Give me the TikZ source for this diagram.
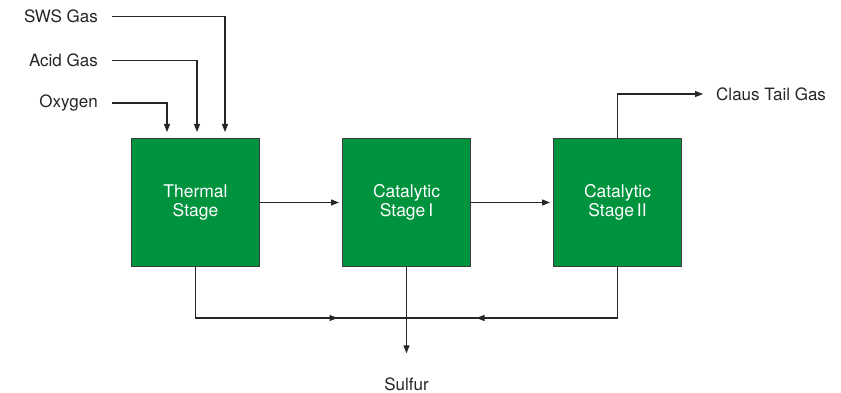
\documentclass[tikz,border=0pt]{standalone}
\usepackage{fontspec}
\setmainfont{TeX Gyre Heros}
\usepackage{tikz}
\usetikzlibrary{positioning, arrows.meta}
\definecolor{stagegreen}{RGB}{0,147,62}
\definecolor{edgegray}{RGB}{60,60,60}
\tikzset{
	stage/.style={draw=edgegray, line width=1pt, fill=stagegreen, text=white,
		minimum size=128pt, inner sep=0pt, align=center,
		font=\fontsize{17.5}{19.5}\selectfont},
	lbl/.style={inner sep=0pt, font=\fontsize{17}{19}\selectfont, text=black!85},
	flow/.style={line width=1.1pt, draw=black!85, -{Triangle[length=8pt,width=6pt]}},
	pipe/.style={line width=1.1pt, draw=black!85},
}

\begin{document}
\begin{tikzpicture}[x=1pt, y=-1pt]
		\useasboundingbox (0, 0) rectangle (841, 393);
		
		% Stages
		\node[stage] (thermal) at (195.5, 202.5) {Thermal\\Stage};
		\node[stage] (cat1) at (406.5, 202.5) {Catalytic\\Stage\,I};
		\node[stage] (cat2) at (617.5, 202.5) {Catalytic\\Stage\,II};
		
		% Feed gases
		\node[lbl, anchor=east] (sws) at (98, 16.5) {SWS Gas};
		\node[lbl, anchor=east] (acid) at (98, 60.5) {Acid Gas};
		\node[lbl, anchor=east] (oxy) at (98, 103) {Oxygen};
		\draw[flow, shorten >=6pt] ([xshift=14pt]sws.east) -| ([xshift=29.5pt]thermal.north);
		\draw[flow, shorten >=6pt] ([xshift=14pt]acid.east) -| ([xshift=1.5pt]thermal.north);
		\draw[flow, shorten >=6pt] ([xshift=14pt]oxy.east) -| ([xshift=-28.5pt]thermal.north);
		
		% Stage to stage
		\draw[flow, shorten >=3pt] (thermal.east) -- (cat1.west);
		\draw[flow, shorten >=3pt] (cat1.east) -- (cat2.west);
		
		% Tail gas
		\node[lbl, anchor=west] (tail) at (716, 94) {Claus Tail Gas};
		\draw[flow] (cat2.north) |- ([xshift=-13pt]tail.west);
		
		% Sulfur collection
		\node[lbl] (sulfur) at (406.5, 384) {Sulfur};
		\coordinate (join) at (406.5, 318);
		\draw[pipe] (thermal.south) |- (join);
		\draw[flow] (thermal.south) |- ([xshift=-69pt]join);
		\draw[pipe] (cat2.south) |- (join);
		\draw[flow] (cat2.south) |- ([xshift=70pt]join);
		\draw[flow] (cat1.south) -- ([yshift=24pt]sulfur.north);
	\end{tikzpicture}
\end{document}
